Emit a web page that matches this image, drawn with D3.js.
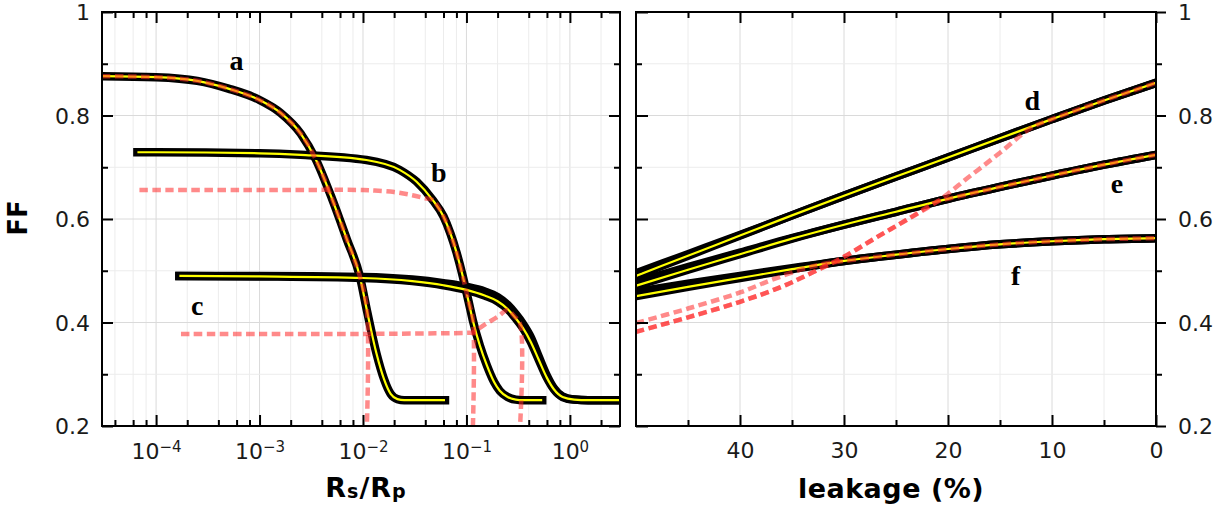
<!DOCTYPE html>
<html>
<head>
<meta charset="utf-8">
<script src="https://cdn.jsdelivr.net/npm/d3@7"></script>
<style>
  body { margin: 0; background: #fff; }
  svg { display: block; font-family: "DejaVu Sans", Verdana, sans-serif; }
</style>
</head>
<body>
<svg id="chart" width="1229" height="511"></svg>
<script>
// ---- left panel: FF vs Rs/Rp ----
const rsA = [3e-5, 1e-4, 2.5e-4, 5e-4, 1e-3, 1.6e-3, 2.5e-3, 3.5e-3, 5e-3, 7e-3, 9.3e-3, 0.011, 0.0135, 0.016, 0.0185, 0.0215, 0.025, 0.062];
const ffA = [0.876, 0.874, 0.867, 0.852, 0.83, 0.805, 0.765, 0.715, 0.64, 0.56, 0.49, 0.42, 0.34, 0.29, 0.262, 0.252, 0.25, 0.25];

const rsB = [6.6e-5, 1e-4, 1e-3, 2.5e-3, 0.0108, 0.0226, 0.033, 0.047, 0.06, 0.07, 0.08, 0.092, 0.105, 0.115, 0.135, 0.157, 0.185, 0.21, 0.25, 0.3, 0.35, 0.54];
const ffB = [0.729, 0.729, 0.727, 0.724, 0.714, 0.695, 0.672, 0.637, 0.605, 0.572, 0.536, 0.49, 0.44, 0.405, 0.355, 0.318, 0.285, 0.268, 0.256, 0.251, 0.25, 0.25];

const rsC = [1.68e-4, 1e-3, 0.01, 0.03, 0.06, 0.1, 0.15, 0.2, 0.25, 0.3, 0.35, 0.42, 0.5, 0.6, 0.7, 0.85, 1.1, 1.5, 3.05];
const ffCBlack = [0.490, 0.490, 0.488, 0.483, 0.476, 0.469, 0.460, 0.449, 0.434, 0.416, 0.398, 0.371, 0.334, 0.297, 0.273, 0.257, 0.251, 0.25, 0.25];
const ffCYellow = [0.490, 0.489, 0.486, 0.480, 0.472, 0.463, 0.452, 0.441, 0.426, 0.408, 0.390, 0.362, 0.328, 0.293, 0.271, 0.256, 0.251, 0.25, 0.25];

// dashed approximations (left)
const rsDashA = [3e-5, 1e-4, 2.5e-4, 5e-4, 1e-3, 1.6e-3, 2.5e-3, 3.5e-3, 5e-3, 7e-3, 9.3e-3, 0.0109, 0.0109];
const ffDashA = [0.876, 0.874, 0.867, 0.852, 0.83, 0.805, 0.765, 0.715, 0.64, 0.56, 0.49, 0.425, 0.2];
const rsDashB = [6.9e-5, 1e-3, 0.01, 0.013, 0.02, 0.03, 0.04, 0.047, 0.06, 0.07, 0.08, 0.092, 0.105, 0.1155, 0.1155];
const ffDashB = [0.656, 0.656, 0.656, 0.655, 0.652, 0.646, 0.640, 0.637, 0.605, 0.572, 0.536, 0.49, 0.44, 0.405, 0.2];
const rsDashC = [1.74e-4, 1e-3, 0.01, 0.05, 0.1, 0.1155, 0.15, 0.2, 0.25, 0.29, 0.33, 0.33];
const ffDashC = [0.378, 0.378, 0.378, 0.379, 0.38, 0.381, 0.396, 0.411, 0.424, 0.412, 0.397, 0.2];

// ---- right panel: FF vs leakage ----
const leak = [50, 45, 40, 35, 30, 25, 20, 15, 10, 5, 0];
const ffD = [0.495, 0.532, 0.569, 0.607, 0.645, 0.682, 0.719, 0.756, 0.793, 0.829, 0.863];
const ffDYellow = [0.490, 0.529, 0.568, 0.607, 0.645, 0.682, 0.719, 0.756, 0.793, 0.829, 0.863];
const ffE = [0.478, 0.507, 0.535, 0.563, 0.589, 0.614, 0.639, 0.662, 0.684, 0.705, 0.724];
const ffEYellow = [0.471, 0.502, 0.532, 0.562, 0.589, 0.614, 0.639, 0.662, 0.684, 0.705, 0.724];
const ffF = [0.459, 0.475, 0.49, 0.505, 0.519, 0.531, 0.542, 0.551, 0.557, 0.561, 0.563];
const ffFYellow = [0.451, 0.469, 0.486, 0.503, 0.519, 0.531, 0.542, 0.551, 0.557, 0.561, 0.563];

const leakDashF = [50, 45, 40, 37, 34, 32, 30, 25, 20, 15, 10, 5, 0];
const ffDashF = [0.399, 0.427, 0.458, 0.482, 0.503, 0.513, 0.519, 0.531, 0.542, 0.551, 0.557, 0.561, 0.563];
const leakDashE = [50, 45, 40, 36, 33, 30, 27, 24, 21, 20, 15, 10, 5, 0];
const ffDashE = [0.382, 0.41, 0.44, 0.469, 0.497, 0.527, 0.563, 0.598, 0.634, 0.639, 0.662, 0.684, 0.705, 0.724];
const leakDashD = [50, 45, 40, 36, 33, 30, 27, 24, 21, 18, 15, 12, 10, 5, 0];
const ffDashD = [0.382, 0.41, 0.44, 0.469, 0.497, 0.527, 0.563, 0.598, 0.634, 0.681, 0.728, 0.776, 0.793, 0.829, 0.863];

const yMajor = [0.2, 0.4, 0.6, 0.8, 1];
const yMinor = [0.3, 0.5, 0.7, 0.9];
const rsMajor = [1e-4, 1e-3, 1e-2, 1e-1, 1];
const rsExp = ["\u22124", "\u22123", "\u22122", "\u22121", "0"];
const leakMajor = [40, 30, 20, 10, 0];
const leakMinor = [45, 35, 25, 15, 5];

const curveLabels = [
  {t: "a", panel: "L", x: 6e-4, y: 0.888},
  {t: "b", panel: "L", x: 0.054, y: 0.671},
  {t: "c", panel: "L", x: 2.5e-4, y: 0.415},
  {t: "d", panel: "R", x: 11.9, y: 0.81},
  {t: "e", panel: "R", x: 3.75, y: 0.65},
  {t: "f", panel: "R", x: 13.5, y: 0.473}
];

// ---- layout ----
const svg = d3.select("#chart");
const yTop = 12, yBottom = 426;
const PL = {x0: 102, x1: 620};
const PR = {x0: 636, x1: 1156};

const y = d3.scaleLinear().domain([0.2, 1]).range([yBottom, yTop]);
const xL = d3.scaleLog().domain([3e-5, 3.05]).range([PL.x0, PL.x1]);
const xR = d3.scaleLinear().domain([50, 0]).range([PR.x0, PR.x1]);

const rsMinor = [1e-5, 1e-4, 1e-3, 1e-2, 1e-1, 1]
  .flatMap(dec => [2, 4, 6, 8].map(m => m * dec))
  .filter(v => v > 3e-5 && v < 3.05);

const defs = svg.append("defs");
defs.append("clipPath").attr("id", "clipL").append("rect")
  .attr("x", PL.x0).attr("y", yTop).attr("width", PL.x1 - PL.x0).attr("height", yBottom - yTop);
defs.append("clipPath").attr("id", "clipR").append("rect")
  .attr("x", PR.x0).attr("y", yTop).attr("width", PR.x1 - PR.x0).attr("height", yBottom - yTop);

// grid
function drawGrid(P, xScale, xMaj, xMin) {
  const g = svg.append("g");
  g.selectAll(".vmin").data(xMin).enter().append("line")
    .attr("x1", d => xScale(d)).attr("x2", d => xScale(d))
    .attr("y1", yTop).attr("y2", yBottom)
    .style("stroke", "#ececec").style("stroke-width", 1);
  g.selectAll(".vmaj").data(xMaj).enter().append("line")
    .attr("x1", d => xScale(d)).attr("x2", d => xScale(d))
    .attr("y1", yTop).attr("y2", yBottom)
    .style("stroke", "#dadada").style("stroke-width", 1);
  g.selectAll(".hmin").data(yMinor).enter().append("line")
    .attr("x1", P.x0).attr("x2", P.x1)
    .attr("y1", d => y(d)).attr("y2", d => y(d))
    .style("stroke", "#ececec").style("stroke-width", 1);
  g.selectAll(".hmaj").data(yMajor).enter().append("line")
    .attr("x1", P.x0).attr("x2", P.x1)
    .attr("y1", d => y(d)).attr("y2", d => y(d))
    .style("stroke", "#dadada").style("stroke-width", 1);
}
drawGrid(PL, xL, rsMajor, rsMinor);
drawGrid(PR, xR, leakMajor, leakMinor);

// curves
const smooth = d3.line().curve(d3.curveMonotoneX);
const bendy = d3.line().curve(d3.curveCatmullRom.alpha(0.5));

function pts(xs, ys, xScale) {
  return xs.map((v, i) => [xScale(v), y(ys[i])]);
}

function solid(g, xs, ys, xScale, withYellow) {
  const p = pts(xs, ys, xScale);
  g.append("path").attr("d", smooth(p))
    .style("fill", "none").style("stroke", "#000")
    .style("stroke-width", 8.5).style("stroke-linecap", "square");
  if (withYellow) {
    g.append("path").attr("d", smooth(p))
      .style("fill", "none").style("stroke", "#ffff00")
      .style("stroke-width", 2.2);
  }
}

function dashed(g, xs, ys, xScale) {
  g.append("path").attr("d", bendy(pts(xs, ys, xScale)))
    .style("fill", "none").style("stroke", "#ff2a2a")
    .style("stroke-opacity", 0.55)
    .style("stroke-width", 4.5)
    .style("stroke-dasharray", "8.5,4.5");
}

const gL = svg.append("g").attr("clip-path", "url(#clipL)");
solid(gL, rsA, ffA, xL, true);
solid(gL, rsB, ffB, xL, true);
solid(gL, rsC, ffCBlack, xL, false);
solid(gL, rsC, ffCYellow, xL, true);
dashed(gL, rsDashA, ffDashA, xL);
dashed(gL, rsDashB, ffDashB, xL);
dashed(gL, rsDashC, ffDashC, xL);

const gR = svg.append("g").attr("clip-path", "url(#clipR)");
solid(gR, leak, ffD, xR, false);
solid(gR, leak, ffE, xR, false);
solid(gR, leak, ffF, xR, false);
solid(gR, leak, ffDYellow, xR, true);
solid(gR, leak, ffEYellow, xR, true);
solid(gR, leak, ffFYellow, xR, true);
dashed(gR, leakDashF, ffDashF, xR);
dashed(gR, leakDashE, ffDashE, xR);
dashed(gR, leakDashD, ffDashD, xR);

// axes
function axisGroup(axis, tx, ty) {
  const g = svg.append("g")
    .attr("transform", `translate(${tx},${ty})`)
    .call(axis);
  g.select(".domain").remove();
  g.selectAll(".tick line").style("stroke", "#000").style("stroke-width", 2);
  g.selectAll(".tick text")
    .style("font-family", '"DejaVu Sans", Verdana, sans-serif')
    .style("font-size", "22px").style("fill", "#1a1a1a");
  return g;
}
const fmtY = d => d === 1 ? "1" : d.toFixed(1);

// left panel axes
axisGroup(d3.axisLeft(y).tickValues(yMajor).tickSize(-11).tickPadding(12).tickFormat(fmtY), PL.x0, 0)
  .selectAll(".tick text").attr("dy", "0.36em");
axisGroup(d3.axisLeft(y).tickValues(yMinor).tickSize(-6).tickFormat(""), PL.x0, 0);
axisGroup(d3.axisRight(y).tickValues(yMajor).tickSize(-11).tickFormat(""), PL.x1, 0);
axisGroup(d3.axisRight(y).tickValues(yMinor).tickSize(-6).tickFormat(""), PL.x1, 0);
axisGroup(d3.axisTop(xL).tickValues(rsMajor).tickSize(-11).tickFormat(""), 0, yTop);
axisGroup(d3.axisTop(xL).tickValues(rsMinor).tickSize(-6).tickFormat(""), 0, yTop);
const bx = axisGroup(d3.axisBottom(xL).tickValues(rsMajor).tickSize(-11).tickPadding(17).tickFormat(""), 0, yBottom);
bx.selectAll(".tick text").each(function(d, i) {
  const t = d3.select(this);
  t.text(null);
  t.append("tspan").text("10");
  t.append("tspan").text(rsExp[i]).attr("dy", "-0.45em").style("font-size", "15px");
});
axisGroup(d3.axisBottom(xL).tickValues(rsMinor).tickSize(-6).tickFormat(""), 0, yBottom);

// right panel axes
axisGroup(d3.axisLeft(y).tickValues(yMajor).tickSize(-12).tickFormat(""), PR.x0, 0);
axisGroup(d3.axisLeft(y).tickValues(yMinor).tickSize(-6).tickFormat(""), PR.x0, 0);
axisGroup(d3.axisRight(y).tickValues(yMajor).tickSize(10).tickPadding(12).tickFormat(fmtY), PR.x1, 0)
  .selectAll(".tick text").attr("dy", "0.36em");
axisGroup(d3.axisRight(y).tickValues(yMinor).tickSize(6).tickFormat(""), PR.x1, 0);
axisGroup(d3.axisTop(xR).tickValues(leakMajor).tickSize(-11).tickFormat(""), 0, yTop);
axisGroup(d3.axisTop(xR).tickValues(leakMinor).tickSize(-6).tickFormat(""), 0, yTop);
axisGroup(d3.axisBottom(xR).tickValues(leakMajor).tickSize(-11).tickPadding(16).tickFormat(d3.format("d")), 0, yBottom);
axisGroup(d3.axisBottom(xR).tickValues(leakMinor).tickSize(-6).tickFormat(""), 0, yBottom);

// frames
[PL, PR].forEach(P => {
  svg.append("rect")
    .attr("x", P.x0).attr("y", yTop)
    .attr("width", P.x1 - P.x0).attr("height", yBottom - yTop)
    .style("fill", "none").style("stroke", "#000").style("stroke-width", 2);
});

// curve letters
svg.selectAll(".clabel").data(curveLabels).enter().append("text")
  .attr("x", d => d.panel === "L" ? xL(d.x) : xR(d.x))
  .attr("y", d => y(d.y))
  .attr("text-anchor", "middle")
  .style("font-family", '"Liberation Serif", "Times New Roman", serif')
  .style("font-weight", "bold")
  .style("font-size", "28px")
  .text(d => d.t);

// axis titles
svg.append("text")
  .attr("transform", "translate(18,218) rotate(-90)")
  .attr("text-anchor", "middle")
  .attr("dominant-baseline", "central")
  .style("font-weight", "bold").style("font-size", "26px")
  .text("FF");

const xt = svg.append("text")
  .attr("x", (PL.x0 + PL.x1) / 2 + 5).attr("y", 497)
  .attr("text-anchor", "middle")
  .style("font-weight", "bold").style("font-size", "27px")
  .style("letter-spacing", "1px");
xt.append("tspan").text("R");
xt.append("tspan").text("s").style("font-size", "19px").attr("dy", 1);
xt.append("tspan").text("/R").attr("dy", -1);
xt.append("tspan").text("p").style("font-size", "19px").attr("dy", 1);

svg.append("text")
  .attr("x", (PR.x0 + PR.x1) / 2 - 5).attr("y", 498)
  .attr("text-anchor", "middle")
  .style("font-weight", "bold").style("font-size", "27px")
  .style("letter-spacing", "0.5px")
  .text("leakage (%)");
</script>
</body>
</html>
